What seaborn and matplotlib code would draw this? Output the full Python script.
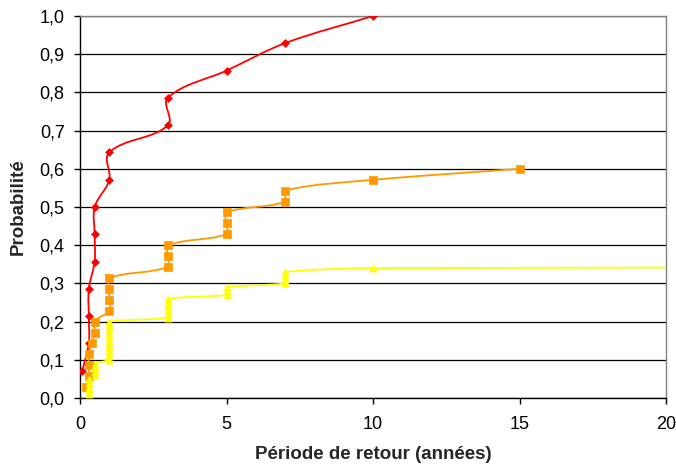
import numpy as np
import matplotlib
matplotlib.use("Agg")
import matplotlib.pyplot as plt
from matplotlib.path import Path
from matplotlib.patches import PathPatch
from matplotlib.ticker import FuncFormatter
import seaborn as sns

# Données
red_x = [0.08, 0.3, 0.3, 0.3, 0.5, 0.5, 0.5, 1, 1, 3, 3, 5, 7, 10]
red_y = [0.071, 0.143, 0.214, 0.286, 0.357, 0.429, 0.5, 0.571, 0.643,
         0.714, 0.786, 0.857, 0.929, 1.0]

orange_x = [0.2, 0.3, 0.3, 0.3, 0.4, 0.5, 0.5, 1, 1, 1, 1, 3, 3, 3,
            5, 5, 5, 7, 7, 10, 15]
orange_y = [0.029, 0.057, 0.086, 0.114, 0.143, 0.171, 0.2, 0.229, 0.257,
            0.286, 0.314, 0.343, 0.371, 0.4, 0.429, 0.457, 0.486, 0.514,
            0.543, 0.571, 0.6]

yellow_x = [0.3, 0.3, 0.3, 0.3, 0.3, 0.5, 0.5, 0.5, 0.5,
            1, 1, 1, 1, 1, 1, 1, 1, 1, 1, 1,
            3, 3, 3, 3, 3, 3, 5, 5, 5, 7, 7, 7, 7, 10, 100]
yellow_y = [0.01, 0.02, 0.03, 0.04, 0.05, 0.06, 0.07, 0.08, 0.09,
            0.10, 0.11, 0.12, 0.13, 0.14, 0.15, 0.16, 0.17, 0.18, 0.19, 0.20,
            0.21, 0.22, 0.23, 0.24, 0.25, 0.26, 0.27, 0.28, 0.29,
            0.30, 0.31, 0.32, 0.33, 0.34, 0.345]

y_ticks = [0.0, 0.1, 0.2, 0.3, 0.4, 0.5, 0.6, 0.7, 0.8, 0.9, 1.0]
x_ticks = [0, 5, 10, 15, 20]

sns.set_style("white")
plt.rcParams['font.family'] = ['Liberation Sans', 'DejaVu Sans']

fig = plt.figure(figsize=(6.76, 4.69), dpi=100)
ax = fig.add_axes([80 / 676, 71 / 469, 586 / 676, 382 / 469])
ax.set_xlim(0, 20)
ax.set_ylim(0, 1.0)

# échelle en pixels pour lisser comme Excel
SX, SY = 586 / 20, 382 / 1.0


def courbe_lissee(xs, ys):
    p = np.column_stack([np.array(xs) * SX, np.array(ys) * SY])
    n = len(p)
    verts = [p[0]]
    codes = [Path.MOVETO]
    for i in range(n - 1):
        p0 = p[i - 1] if i > 0 else p[i]
        p3 = p[i + 2] if i + 2 < n else p[i + 1]
        p1, p2 = p[i], p[i + 1]
        d = np.linalg.norm(p2 - p1)
        t1 = p2 - p0
        t2 = p3 - p1
        c1 = p1 + t1 / np.linalg.norm(t1) * d / 3
        c2 = p2 - t2 / np.linalg.norm(t2) * d / 3
        verts += [c1, c2, p2]
        codes += [Path.CURVE4] * 3
    verts = np.array(verts) / [SX, SY]
    return Path(verts, codes)


series = [
    (red_x, red_y, "#FF0000", "D", 16),
    (orange_x, orange_y, "#FF9900", "s", 26),
    (yellow_x, yellow_y, "#FFFF00", "^", 26),
]

for xs, ys, col, mk, size in series:
    ax.add_patch(PathPatch(courbe_lissee(xs, ys), facecolor="none",
                           edgecolor=col, lw=1.3, zorder=3))
    sns.scatterplot(x=xs, y=ys, marker=mk, color=col, s=size,
                    edgecolor=col, linewidth=0.5, ax=ax, zorder=4, clip_on=True)

ax.set_yticks(y_ticks)
ax.set_xticks(x_ticks)
ax.yaxis.set_major_formatter(FuncFormatter(lambda v, p: f"{v:.1f}".replace(".", ",")))
ax.grid(False)
ax.yaxis.grid(True, color="black", lw=0.9)
ax.set_axisbelow(True)

for s in ["top", "right"]:
    ax.spines[s].set_color("#808080")
    ax.spines[s].set_linewidth(1.0)
for s in ["left", "bottom"]:
    ax.spines[s].set_color("black")
    ax.spines[s].set_linewidth(1.0)

ax.tick_params(axis="both", direction="out", length=4, width=1, color="black",
               labelsize=13, labelcolor="black")
ax.tick_params(axis="x", pad=9)
ax.tick_params(axis="y", pad=7)
ax.tick_params(bottom=True, left=True)

ax.set_xlabel("Période de retour (années)", fontsize=13.5, fontweight="bold", labelpad=9)
ax.set_ylabel("Probabilité", fontsize=13.5, fontweight="bold", labelpad=9)

fig.savefig("out.png", dpi=100)
